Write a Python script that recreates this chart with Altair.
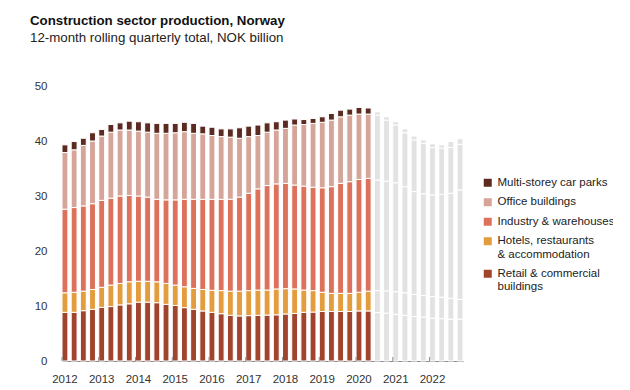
import altair as alt
import pandas as pd

# ---- data ----
years = list(range(2012, 2023))
quarters = [f"{y} Q{q}" for y in years for q in (1, 2, 3, 4)]
year_starts = [f"{y} Q1" for y in years]
n_actual = 34  # 2012 Q1 .. 2020 Q2 coloured, rest forecast (grey)

categories = [
    "Multi-storey car parks",
    "Office buildings",
    "Industry & warehouses",
    "Hotels, restaurants & accommodation",
    "Retail & commercial buildings",
]
colors = ["#5b2b22", "#d6a599", "#dc715c", "#e39c3e", "#a1442d"]
forecast_color = "#e2e2e2"

retail = [8.85, 8.85, 9.15, 9.4, 9.75, 9.9, 10.2, 10.4, 10.7, 10.7, 10.6, 10.3,
          10.1, 9.7, 9.4, 9.1, 8.85, 8.6, 8.3, 8.2, 8.25, 8.3, 8.35, 8.4,
          8.55, 8.65, 8.85, 8.9, 9.0, 9.0, 9.0, 9.0, 9.1, 9.1, 8.8, 8.7,
          8.5, 8.3, 8.1, 8.0, 7.8, 7.7, 7.6, 7.6]
hotels = [3.55, 3.65, 3.55, 3.6, 3.65, 3.9, 3.9, 4.0, 3.8, 3.8, 3.8, 3.8,
          3.7, 3.8, 3.8, 3.9, 4.0, 4.2, 4.4, 4.5, 4.55, 4.6, 4.55, 4.7,
          4.6, 4.45, 4.05, 3.9, 3.5, 3.3, 3.3, 3.3, 3.4, 3.6, 4.0, 4.05,
          4.1, 4.1, 4.0, 3.9, 3.9, 3.9, 3.8, 3.6]
industry = [15.2, 15.4, 15.5, 15.6, 15.8, 15.8, 15.9, 15.7, 15.5, 15.3, 15.0, 15.2,
            15.5, 15.9, 16.2, 16.4, 16.55, 16.6, 16.7, 17.1, 17.7, 18.4, 19.0, 19.1,
            19.15, 18.9, 18.9, 18.8, 19.0, 19.4, 20.0, 20.3, 20.5, 20.5, 20.1, 19.95,
            19.8, 19.3, 18.7, 18.5, 18.5, 18.7, 19.1, 19.9]
office = [10.3, 10.5, 11.0, 11.4, 11.7, 12.0, 12.0, 11.9, 11.8, 11.8, 12.0, 12.1,
          12.2, 12.3, 12.0, 11.9, 11.6, 11.4, 11.3, 10.7, 10.3, 9.7, 9.7, 9.8,
          10.0, 10.9, 11.2, 11.6, 11.9, 12.1, 12.1, 12.1, 11.9, 11.7, 11.8, 11.1,
          10.5, 9.8, 9.4, 9.2, 8.6, 8.4, 8.3, 8.3]
carparks = [1.4, 1.5, 1.3, 1.5, 1.2, 1.4, 1.3, 1.6, 1.7, 1.7, 1.8, 1.8,
            1.7, 1.7, 1.8, 1.4, 1.5, 1.4, 1.5, 1.9, 1.9, 1.9, 1.7, 1.5,
            1.5, 1.1, 0.9, 0.9, 1.0, 1.2, 1.2, 1.1, 1.2, 1.1, 0.6, 0.6,
            0.6, 0.7, 0.7, 0.6, 0.7, 0.6, 1.1, 1.0]

series = {
    "Retail & commercial buildings": retail,
    "Hotels, restaurants & accommodation": hotels,
    "Industry & warehouses": industry,
    "Office buildings": office,
    "Multi-storey car parks": carparks,
}
stack_order = {name: k for k, name in enumerate(series)}

rows = []
for i, q in enumerate(quarters):
    for name, vals in series.items():
        rows.append({"q": q, "cat": name, "value": vals[i],
                     "ord": stack_order[name], "forecast": int(i >= n_actual)})
df = pd.DataFrame(rows)
ticks_df = pd.DataFrame({"q": year_starts})

FONT = "Liberation Sans"

x_scale = alt.Scale(domain=quarters, paddingInner=0.36, paddingOuter=0)

bars = alt.Chart(df).mark_bar(stroke="white", strokeWidth=1).encode(
    x=alt.X("q:O", scale=x_scale, sort=None,
            axis=alt.Axis(values=year_starts, labelExpr="substring(datum.label, 0, 4)",
                          bandPosition=0, title=None, labelAngle=0, tickSize=0,
                          domainColor="#8c8c8c", domainWidth=1, labelPadding=12,
                          labelFontSize=11.5, labelColor="#333333", labelFont=FONT)),
    y=alt.Y("value:Q", stack="zero", scale=alt.Scale(domain=[0, 50], nice=False),
            axis=alt.Axis(values=[0, 10, 20, 30, 40, 50], grid=False, domain=False,
                          ticks=False, labelPadding=15, title=None, labelFontSize=11.5,
                          labelColor="#333333", labelFont=FONT)),
    color=alt.condition(
        "datum.forecast == 1",
        alt.value(forecast_color),
        alt.Color("cat:N", scale=alt.Scale(domain=categories, range=colors),
                  legend=alt.Legend(
                      orient="none", legendX=420, legendY=91, title=None,
                      symbolType="square", symbolSize=64, symbolStrokeWidth=0,
                      labelFontSize=11.5, labelFont=FONT, labelColor="#222222",
                      labelLimit=0, rowPadding=6.5, labelOffset=4,
                      labelExpr=("datum.label == 'Hotels, restaurants & accommodation' ? "
                                 "['Hotels, restaurants', '& accommodation'] : "
                                 "datum.label == 'Retail & commercial buildings' ? "
                                 "['Retail & commercial', 'buildings'] : datum.label"))),
    ),
    order=alt.Order("ord:Q"),
)

tick_marks = alt.Chart(ticks_df).mark_rule(color="#8c8c8c", strokeWidth=1).encode(
    x=alt.X("q:O", scale=x_scale, bandPosition=0),
    y=alt.value(275),
    y2=alt.value(271),
)

chart = alt.layer(bars, tick_marks).properties(
    width=401,
    height=275,
    autosize=alt.AutoSizeParams(type="none"),
    padding={"left": 54, "top": 78, "right": 150, "bottom": 22},
    title=alt.TitleParams(
        "Construction sector production, Norway",
        subtitle="12-month rolling quarterly total, NOK billion",
        anchor="start", frame="group", dx=-32, offset=36,
        font=FONT, fontSize=13.3, fontWeight="bold", color="#111111",
        subtitleFont=FONT, subtitleFontSize=13.3, subtitleColor="#222222",
        subtitlePadding=3,
    ),
).configure_view(stroke=None)

chart.save("out.html", embed_options={"renderer": "svg", "actions": False})
